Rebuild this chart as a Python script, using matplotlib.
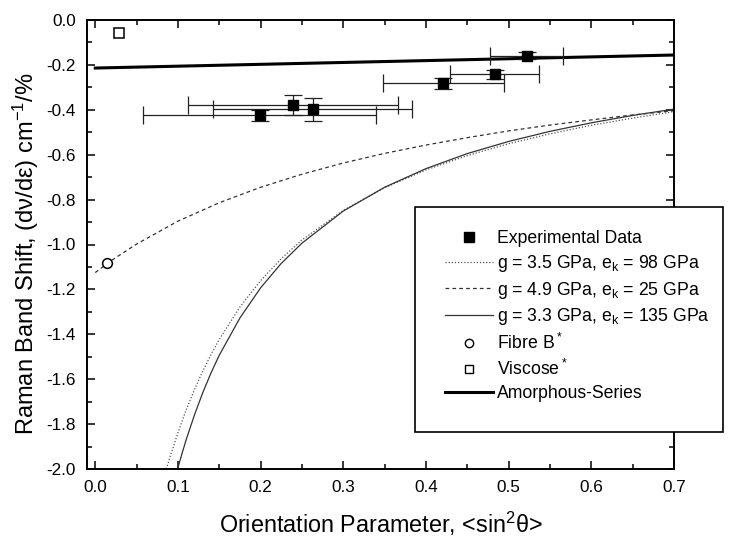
import numpy as np
import matplotlib
matplotlib.use("Agg")
import matplotlib.pyplot as plt
from matplotlib.patches import Rectangle
from matplotlib.lines import Line2D
from matplotlib.ticker import MultipleLocator, FormatStrFormatter

plt.rcParams['font.family'] = ['Liberation Sans', 'DejaVu Sans']
plt.rcParams['mathtext.default'] = 'regular'
plt.rcParams['axes.unicode_minus'] = False

# experimental points with x / y error
exp_x = [0.199, 0.239, 0.263, 0.421, 0.483, 0.522]
exp_y = [-0.425, -0.377, -0.398, -0.282, -0.242, -0.159]
exp_xerr = [0.141, 0.127, 0.120, 0.073, 0.054, 0.044]
exp_yerr = [0.024, 0.045, 0.050, 0.025, 0.020, 0.016]

# model curves
dot_x = [0.0861, 0.09, 0.1, 0.11, 0.12, 0.13, 0.14, 0.15, 0.175, 0.2, 0.225, 0.25,
         0.3, 0.35, 0.4, 0.45, 0.5, 0.55, 0.6, 0.65, 0.7]
dot_y = [-2.0, -1.951, -1.838, -1.736, -1.646, -1.564, -1.490, -1.423, -1.278, -1.161,
         -1.063, -0.980, -0.848, -0.747, -0.668, -0.604, -0.551, -0.507, -0.469, -0.437, -0.408]

dash_x = [0.0, 0.02, 0.05, 0.1, 0.15, 0.2, 0.25, 0.3, 0.35, 0.4, 0.45, 0.5, 0.55, 0.6, 0.65, 0.7]
dash_y = [-1.125, -1.070, -0.998, -0.896, -0.814, -0.745, -0.687, -0.637, -0.594, -0.557,
          -0.524, -0.494, -0.468, -0.445, -0.423, -0.404]

solid_x = [0.0996, 0.105, 0.11, 0.12, 0.13, 0.14, 0.15, 0.175, 0.2, 0.225, 0.25, 0.3,
           0.35, 0.4, 0.45, 0.5, 0.55, 0.6, 0.65, 0.7]
solid_y = [-2.0, -1.930, -1.869, -1.759, -1.660, -1.572, -1.493, -1.327, -1.193, -1.084,
           -0.994, -0.851, -0.745, -0.662, -0.595, -0.541, -0.496, -0.458, -0.425, -0.397]

fibre_x, fibre_y = [0.014], [-1.081]
visc_x, visc_y = [0.029], [-0.057]

amorph_x = [0.0, 0.7]
amorph_y = [-0.214, -0.156]

labels = ['Experimental Data',
          'g = 3.5 GPa, e$_k$ = 98 GPa',
          'g = 4.9 GPa, e$_k$ = 25 GPa',
          'g = 3.3 GPa, e$_k$ = 135 GPa',
          'Fibre B$^*$',
          'Viscose$^*$',
          'Amorphous-Series']

fig = plt.figure(figsize=(7.32, 5.39), dpi=100)
ax = fig.add_axes([87/732, 70/539, 587/732, 449/539])

ax.plot(dot_x, dot_y, color='#555555', lw=0.9, ls=(0, (1, 1.5)))
ax.plot(dash_x, dash_y, color='#333333', lw=0.9, ls=(0, (3, 2.5)))
ax.plot(solid_x, solid_y, color='#333333', lw=0.9)
ax.plot(amorph_x, amorph_y, color='black', lw=2.2)
ax.errorbar(exp_x, exp_y, xerr=exp_xerr, yerr=exp_yerr, fmt='none',
            ecolor='#222222', elinewidth=0.9, capsize=6.5, capthick=0.9)
ax.plot(exp_x, exp_y, 's', color='black', ms=7.5)
ax.plot(fibre_x, fibre_y, 'o', mfc='white', mec='black', mew=1.1, ms=7)
ax.plot(visc_x, visc_y, 's', mfc='white', mec='black', mew=1.1, ms=6.5)

ax.set_xlim(-0.01, 0.7)
ax.set_ylim(-2.0, 0.0)
ax.xaxis.set_major_locator(MultipleLocator(0.1))
ax.xaxis.set_minor_locator(MultipleLocator(0.05))
ax.yaxis.set_major_locator(MultipleLocator(0.2))
ax.yaxis.set_minor_locator(MultipleLocator(0.1))
ax.xaxis.set_major_formatter(FormatStrFormatter('%.1f'))
ax.yaxis.set_major_formatter(FormatStrFormatter('%.1f'))
ax.tick_params(which='both', direction='in', top=True, right=True, width=1.1, labelsize=12.3)
ax.tick_params(which='major', length=6, pad=8)
ax.tick_params(which='minor', length=3.5)
for s in ax.spines.values():
    s.set_linewidth(1.4)

ax.set_xlabel('Orientation Parameter, <sin$^2$θ>', fontsize=16.8, labelpad=10.5)
ax.set_ylabel('Raman Band Shift, (dν/dε) cm$^{-1}$/%', fontsize=17)
ax.yaxis.set_label_coords(-0.078, 0.48)

# legend box sits over the plot frame and runs past the right edge
box = Rectangle((415/732, 107/539), 308/732, 225/539, transform=fig.transFigure,
                facecolor='white', edgecolor='black', lw=1.2, zorder=3)
fig.patches.append(box)

handles = [
    Line2D([], [], ls='none', marker='s', color='black', ms=7),
    Line2D([], [], color='#555555', lw=0.9, ls=(0, (1, 1.5))),
    Line2D([], [], color='#333333', lw=0.9, ls=(0, (3, 2.5))),
    Line2D([], [], color='#333333', lw=0.9),
    Line2D([], [], ls='none', marker='o', mfc='white', mec='black', mew=1.0, ms=6),
    Line2D([], [], ls='none', marker='s', mfc='white', mec='black', mew=1.0, ms=6),
    Line2D([], [], color='black', lw=2.2),
]
leg = fig.legend(handles, labels, loc='upper left', bbox_to_anchor=(445/732, 1 - 230/539),
                 frameon=False, fontsize=12.7, handlelength=2.7, handletextpad=0.25,
                 labelspacing=0.33, borderpad=0, borderaxespad=0)
leg.set_zorder(4)

fig.savefig('out.png', dpi=100)
